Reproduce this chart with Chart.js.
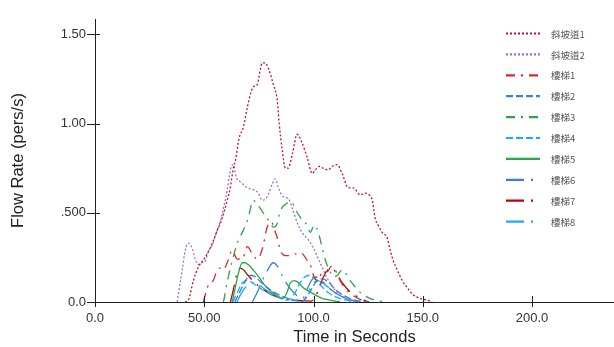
<!DOCTYPE html>
<html>
<head>
<meta charset="utf-8">
<script src="https://cdn.jsdelivr.net/npm/chart.js@4.4.0/dist/chart.umd.min.js"></script>
<style>
  html, body { margin: 0; padding: 0; background: #fff; }
  #wrap { width: 614px; height: 347px; }
</style>
</head>
<body>
<div id="wrap"><canvas id="flowChart" width="614" height="347"></canvas></div>
<script>
// 各出口流量 (pers/s) vs 時間 (s)

const seriesNames = ['斜坡道1', '斜坡道2', '樓梯1', '樓梯2', '樓梯3', '樓梯4', '樓梯5', '樓梯6', '樓梯7', '樓梯8'];

const xTickValues = [0, 50, 100, 150, 200];
const xTickLabels = ['0.0', '50.00', '100.0', '150.0', '200.0'];
const yTickValues = [0, 0.5, 1.0, 1.5];
const yTickLabels = ['0.0', '.500', '1.00', '1.50'];

// 斜坡道1
const ramp1Time = [41.3, 42.7, 45.0, 47.3, 50.4, 53.7, 55.9, 58.2, 60.5, 61.9, 63.3, 64.2, 66.0, 67.9, 69.7, 71.5, 72.9, 74.3, 75.6, 76.5, 77.9, 79.3, 81.6, 83.4, 84.3, 85.7, 87.1, 88.4, 90.3, 92.5, 94.8, 97.1, 99.4, 100.8, 102.6, 104.4, 106.7, 108.5, 110.8, 113.1, 115.9, 118.2, 121.4, 123.6, 125.5, 126.9, 128.2, 129.6, 131.4, 133.7, 135.1, 136.5, 138.3, 140.6, 142.9, 145.6, 148.8, 152.0, 154.3];
const ramp1Flow = [0, 0.01, 0.12, 0.195, 0.25, 0.33, 0.40, 0.47, 0.57, 0.64, 0.75, 0.79, 0.92, 0.98, 1.09, 1.18, 1.21, 1.22, 1.30, 1.34, 1.34, 1.31, 1.22, 1.13, 1.00, 0.85, 0.75, 0.75, 0.83, 0.94, 0.89, 0.81, 0.72, 0.74, 0.76, 0.75, 0.74, 0.76, 0.77, 0.72, 0.64, 0.64, 0.60, 0.61, 0.60, 0.57, 0.47, 0.43, 0.39, 0.36, 0.29, 0.23, 0.18, 0.12, 0.08, 0.04, 0.02, 0.01, 0];

// 斜坡道2
const ramp2Time = [37.6, 39.9, 41.3, 42.7, 44.5, 45.9, 47.3, 49.1, 50.5, 51.8, 53.7, 55.0, 57.3, 58.7, 60.5, 61.4, 62.4, 63.3, 64.6, 66.9, 69.7, 72.4, 74.7, 76.5, 78.8, 81.1, 82.5, 83.9, 86.1, 88.4, 90.7, 93.0, 95.3, 97.6, 100, 103, 106, 109, 112, 116, 120];
const ramp2Flow = [0, 0.18, 0.29, 0.33, 0.30, 0.24, 0.21, 0.22, 0.23, 0.28, 0.32, 0.37, 0.45, 0.52, 0.63, 0.70, 0.76, 0.77, 0.70, 0.67, 0.64, 0.63, 0.61, 0.57, 0.59, 0.66, 0.69, 0.64, 0.59, 0.58, 0.51, 0.43, 0.38, 0.35, 0.30, 0.22, 0.14, 0.08, 0.04, 0.01, 0];

// 樓梯1
const stair1Time = [49.6, 51.4, 52.7, 54.1, 55.9, 57.3, 58.7, 60.5, 62.8, 65.1, 67.4, 69.7, 72.0, 74.3, 76.6, 78.8, 80.7, 82.0, 83.4, 84.8, 87.1, 89.8, 91.6, 93.5, 94.8, 96.7, 98.5, 100.3, 102.2, 104.0, 106.3, 108.1, 109.9, 112.2, 114.9, 117.7, 121.4, 125.9];
const stair1Flow = [0, 0.08, 0.11, 0.12, 0.18, 0.19, 0.18, 0.22, 0.29, 0.24, 0.24, 0.31, 0.27, 0.24, 0.30, 0.42, 0.45, 0.41, 0.36, 0.29, 0.26, 0.26, 0.27, 0.26, 0.27, 0.24, 0.21, 0.14, 0.12, 0.17, 0.17, 0.20, 0.18, 0.12, 0.07, 0.04, 0.015, 0];

// 樓梯2
const stair2Time = [64.0, 66.0, 68.0, 70.0, 71.5, 73.5, 76.0, 80.0, 85.0, 90.0, 95.0, 98.0, 101.0, 104.0, 107.0, 110.0, 114.0, 119.0, 125.0];
const stair2Flow = [0, 0.05, 0.10, 0.14, 0.15, 0.14, 0.11, 0.07, 0.035, 0.015, 0.005, 0.05, 0.11, 0.13, 0.11, 0.07, 0.035, 0.01, 0];

// 樓梯3
const stair3Time = [58.8, 61.0, 62.8, 65.1, 67.8, 70.1, 72.4, 74.7, 77.0, 79.3, 81.6, 83.4, 84.8, 87.5, 89.8, 92.1, 94.8, 97.1, 98.5, 100.3, 102.2, 104.0, 105.8, 107.6, 109.0, 111.0, 113.1, 116.8, 120.4, 124.1, 128.2, 132.8];
const stair3Flow = [0, 0.14, 0.23, 0.33, 0.40, 0.47, 0.57, 0.54, 0.50, 0.46, 0.42, 0.44, 0.51, 0.55, 0.56, 0.51, 0.46, 0.43, 0.39, 0.43, 0.39, 0.30, 0.22, 0.17, 0.14, 0.15, 0.18, 0.12, 0.065, 0.03, 0.01, 0];

// 樓梯4
const stair4Time = [63.0, 65.0, 67.0, 69.0, 71.0, 74.0, 78.0, 83.0, 88.0, 91.0, 93.5, 96.0, 98.0, 100.5, 103.5, 107.0, 111.0, 116.0, 122.0];
const stair4Flow = [0, 0.05, 0.10, 0.12, 0.115, 0.09, 0.06, 0.03, 0.01, 0.04, 0.10, 0.14, 0.15, 0.13, 0.09, 0.05, 0.025, 0.008, 0];

// 樓梯5
const stair5Time = [62.8, 64.2, 65.6, 67.4, 68.8, 70.1, 72.4, 75.6, 77.9, 81.1, 84.8, 86.1, 87.9, 89.3, 91.1, 93.0, 95.3, 99.4, 103.1, 107.6, 112.2];
const stair5Flow = [0, 0.08, 0.16, 0.22, 0.22, 0.21, 0.18, 0.13, 0.09, 0.055, 0.025, 0.02, 0.055, 0.105, 0.12, 0.11, 0.08, 0.05, 0.025, 0.01, 0];

// 樓梯6
const stair6Time = [72.0, 74.5, 77.0, 79.5, 81.5, 83.5, 86.0, 89.0, 92.0, 95.0, 97.0, 99.0, 101.0, 103.0, 106.0, 110.0, 115.0, 121.0];
const stair6Flow = [0, 0.06, 0.13, 0.19, 0.22, 0.20, 0.14, 0.08, 0.04, 0.02, 0.07, 0.12, 0.14, 0.13, 0.09, 0.05, 0.02, 0];

// 樓梯7
const stair7Time = [62.0, 63.5, 65.0, 66.5, 68.0, 70.0, 73.0, 77.0, 81.0, 86.0, 92.0, 99.0, 102.0, 104.5, 106.5, 108.5, 110.5, 113.0, 116.5, 120.0, 125.0];
const stair7Flow = [0, 0.08, 0.16, 0.19, 0.18, 0.15, 0.11, 0.07, 0.04, 0.02, 0.01, 0.005, 0.06, 0.14, 0.18, 0.19, 0.16, 0.11, 0.06, 0.03, 0];

// 樓梯8
const stair8Time = [65.0, 67.0, 69.5, 72.0, 74.5, 78.0, 83.0, 89.0, 95.0, 97.0, 99.5, 102.0, 105.0, 109.0, 114.0, 120.0];
const stair8Flow = [0, 0.05, 0.09, 0.11, 0.10, 0.07, 0.035, 0.012, 0.005, 0.04, 0.10, 0.12, 0.10, 0.06, 0.025, 0];

const allTimes = [ramp1Time, ramp2Time, stair1Time, stair2Time, stair3Time, stair4Time, stair5Time, stair6Time, stair7Time, stair8Time];
const allFlows = [ramp1Flow, ramp2Flow, stair1Flow, stair2Flow, stair3Flow, stair4Flow, stair5Flow, stair6Flow, stair7Flow, stair8Flow];

// 線條樣式
const lineColors = ['#c8102e', '#9b6fd0', '#d42a2a', '#3a7fd0', '#25a74a', '#1eaaf0', '#25a74a', '#3a7fd0', '#c00000', '#1eaaf0'];
const lineDashes = [[2, 2], [2, 2], [9, 6, 2, 6], [7, 3], [9, 6, 2, 6], [7, 3], [], [18, 7, 2, 7], [18, 7, 2, 7], [18, 7, 2, 7]];

const datasets = seriesNames.map((name, i) => ({
    label: name,
    data: allTimes[i].map((t, k) => ({ x: t, y: allFlows[i][k] })),
    borderColor: lineColors[i],
    borderDash: lineDashes[i],
    borderWidth: 1.3,
    pointRadius: 0,
    fill: false,
    cubicInterpolationMode: 'monotone',
    tension: 0.4
}));

// 軸的刻度線穿過軸線
const axisPlugin = {
    id: 'axisPlugin',
    afterDraw(chart) {
        const ctx = chart.ctx;
        const x = chart.scales.x;
        const y = chart.scales.y;
        const area = chart.chartArea;
        ctx.save();
        ctx.strokeStyle = '#222';
        ctx.lineWidth = 1;
        ctx.beginPath();
        ctx.moveTo(area.left + 0.5, area.top);
        ctx.lineTo(area.left + 0.5, area.bottom + 0.5);
        ctx.lineTo(area.right, area.bottom + 0.5);
        yTickValues.forEach(v => {
            const py = Math.round(y.getPixelForValue(v)) + 0.5;
            ctx.moveTo(area.left - 8, py);
            ctx.lineTo(area.left + 5, py);
        });
        xTickValues.forEach(v => {
            const px = Math.round(x.getPixelForValue(v)) + 0.5;
            ctx.moveTo(px, area.bottom - 6);
            ctx.lineTo(px, area.bottom + 5);
        });
        ctx.stroke();
        ctx.restore();
    }
};

// 圖例（畫在圖內右上）
const legendPlugin = {
    id: 'legendPlugin',
    afterDraw(chart) {
        const ctx = chart.ctx;
        ctx.save();
        ctx.font = '9.5px "Noto Sans CJK TC", "Noto Sans CJK SC", sans-serif';
        ctx.textBaseline = 'middle';
        chart.data.datasets.forEach((ds, i) => {
            const yy = 33.5 + i * 20.9;
            ctx.strokeStyle = ds.borderColor;
            ctx.lineWidth = 2.2;
            ctx.setLineDash(ds.borderDash);
            ctx.beginPath();
            ctx.moveTo(506, yy);
            ctx.lineTo(540, yy);
            ctx.stroke();
            ctx.setLineDash([]);
            ctx.fillStyle = '#555';
            ctx.fillText(ds.label, 551, yy + 0.5);
        });
        ctx.restore();
    }
};

const chart = new Chart(document.getElementById('flowChart'), {
    type: 'line',
    data: { datasets },
    plugins: [axisPlugin, legendPlugin],
    options: {
        responsive: false,
        animation: false,
        layout: { padding: { top: 19, right: 0, left: 0, bottom: 0 } },
        plugins: {
            legend: { display: false },
            tooltip: { enabled: false }
        },
        scales: {
            x: {
                type: 'linear',
                min: 0,
                max: 237.5,
                grid: { display: false, drawTicks: false },
                border: { display: false },
                afterBuildTicks: s => { s.ticks = xTickValues.map(v => ({ value: v })); },
                afterFit: s => { s.height = 45; },
                ticks: {
                    padding: 9,
                    color: '#333',
                    font: { family: 'Liberation Sans, Arial, sans-serif', size: 13 },
                    maxRotation: 0,
                    callback: v => xTickLabels[xTickValues.indexOf(v)]
                },
                title: {
                    display: true,
                    text: 'Time in Seconds',
                    color: '#222',
                    padding: { top: 0, bottom: 0 },
                    font: { family: 'Liberation Sans, Arial, sans-serif', size: 16.5 }
                }
            },
            y: {
                type: 'linear',
                min: 0,
                max: 1.586,
                grid: { display: false, drawTicks: false },
                border: { display: false },
                afterBuildTicks: s => { s.ticks = yTickValues.map(v => ({ value: v })); },
                afterFit: s => { s.width = 95; },
                ticks: {
                    padding: 9,
                    color: '#333',
                    font: { family: 'Liberation Sans, Arial, sans-serif', size: 13 },
                    callback: v => yTickLabels[yTickValues.indexOf(v)]
                },
                title: {
                    display: true,
                    text: 'Flow Rate (pers/s)',
                    color: '#222',
                    padding: { top: 9, bottom: 0 },
                    font: { family: 'Liberation Sans, Arial, sans-serif', size: 16.5 }
                }
            }
        }
    }
});
</script>
</body>
</html>
